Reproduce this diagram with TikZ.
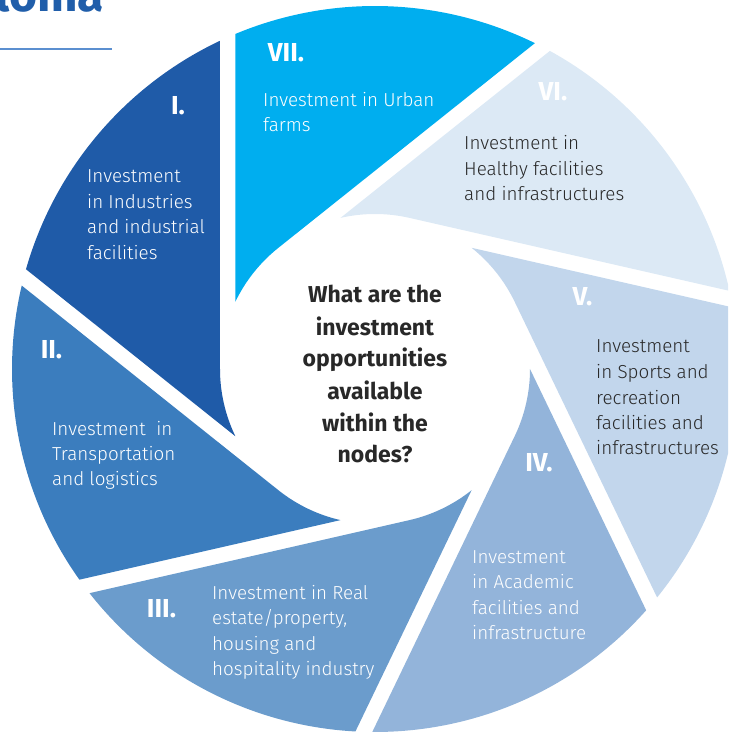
\documentclass[tikz,border=0pt]{standalone}
\usepackage{fontspec}
\setmainfont{Fira Sans}[UprightFont=* Light,BoldFont=* Bold]
\definecolor{bladeI}{RGB}{31,91,168}
\definecolor{bladeII}{RGB}{59,125,190}
\definecolor{bladeIII}{RGB}{107,156,204}
\definecolor{bladeIV}{RGB}{147,180,218}
\definecolor{bladeV}{RGB}{194,214,236}
\definecolor{bladeVI}{RGB}{220,233,245}
\definecolor{bladeVII}{RGB}{0,174,239}
\definecolor{titleblue}{RGB}{32,94,170}
\definecolor{ruleblue}{RGB}{91,143,208}
\definecolor{darktext}{RGB}{40,40,40}

\begin{document}
\begin{tikzpicture}[x=1pt,y=1pt,
    numeral/.style={text=white,font=\bfseries\fontsize{26}{26}\selectfont,inner sep=0pt},
    bladetext/.style={font=\fontsize{18.8}{25.5}\selectfont,align=left,anchor=base west,inner sep=0pt}]
        \useasboundingbox (-375,-364) rectangle (353,369);
        \clip (-375,-364) rectangle (353,369);

        \foreach \a/\c in {205.71/bladeI,257.14/bladeII,308.57/bladeIII,0/bladeIV,51.43/bladeV,102.86/bladeVI,154.29/bladeVII}
            \fill[\c] (\a:155) -- (\a-41.66:363) arc[start angle=\a-41.66,end angle=\a-90.43,radius=363]
                -- (\a-25.71:155) arc[start angle=\a-25.71,end angle=\a,radius=155] -- cycle;

        \node[numeral] (numI) at (-197,263.5) {I.};
        \node[numeral] (numII) at (-323.5,19.5) {II.};
        \node[numeral] (numIII) at (-213.5,-240) {III.};
        \node[numeral] (numIV) at (164,-93.5) {IV.};
        \node[numeral] (numV) at (207.5,72.5) {V.};
        \node[numeral] (numVI) at (178,277) {VI.};
        \node[numeral] (numVII) at (-89,316.5) {VII.};

        \node[bladetext,text=white] (txtI) at (-288,109.5) {Investment\\in Industries\\and industrial\\facilities};
        \node[bladetext,text=white] (txtII) at (-323,-117) {Investment\ \ in\\Transportation\\and logistics};
        \node[bladetext,text=white] (txtIII) at (-163,-306.5) {Investment in Real\\estate/property,\\housing and\\hospitality industry};
        \node[bladetext,text=white] (txtIV) at (97,-270.5) {Investment\\in Academic\\facilities and\\infrastructure};
        \node[bladetext,text=darktext] (txtV) at (221,-86) {Investment\\in Sports and\\recreation\\facilities and\\infrastructures};
        \node[bladetext,text=darktext] (txtVI) at (89,168) {Investment in\\Healthy facilities\\and infrastructures};
        \node[bladetext,text=white] (txtVII) at (-112,237) {Investment in Urban\\farms};

        \node[font=\bfseries\fontsize{23}{32}\selectfont,align=center,anchor=base,inner sep=0pt,text=darktext] (question) at (0,-94)
            {What are the\\investment\\opportunities\\available\\within the\\nodes?};

        \node[font=\bfseries\fontsize{48}{48}\selectfont,text=titleblue,anchor=base west,inner sep=0pt] (title) at (-380,357) {loma};
        \draw[ruleblue,line width=1.5pt] (-375,320) -- (-263,320);
    \end{tikzpicture}
\end{document}
